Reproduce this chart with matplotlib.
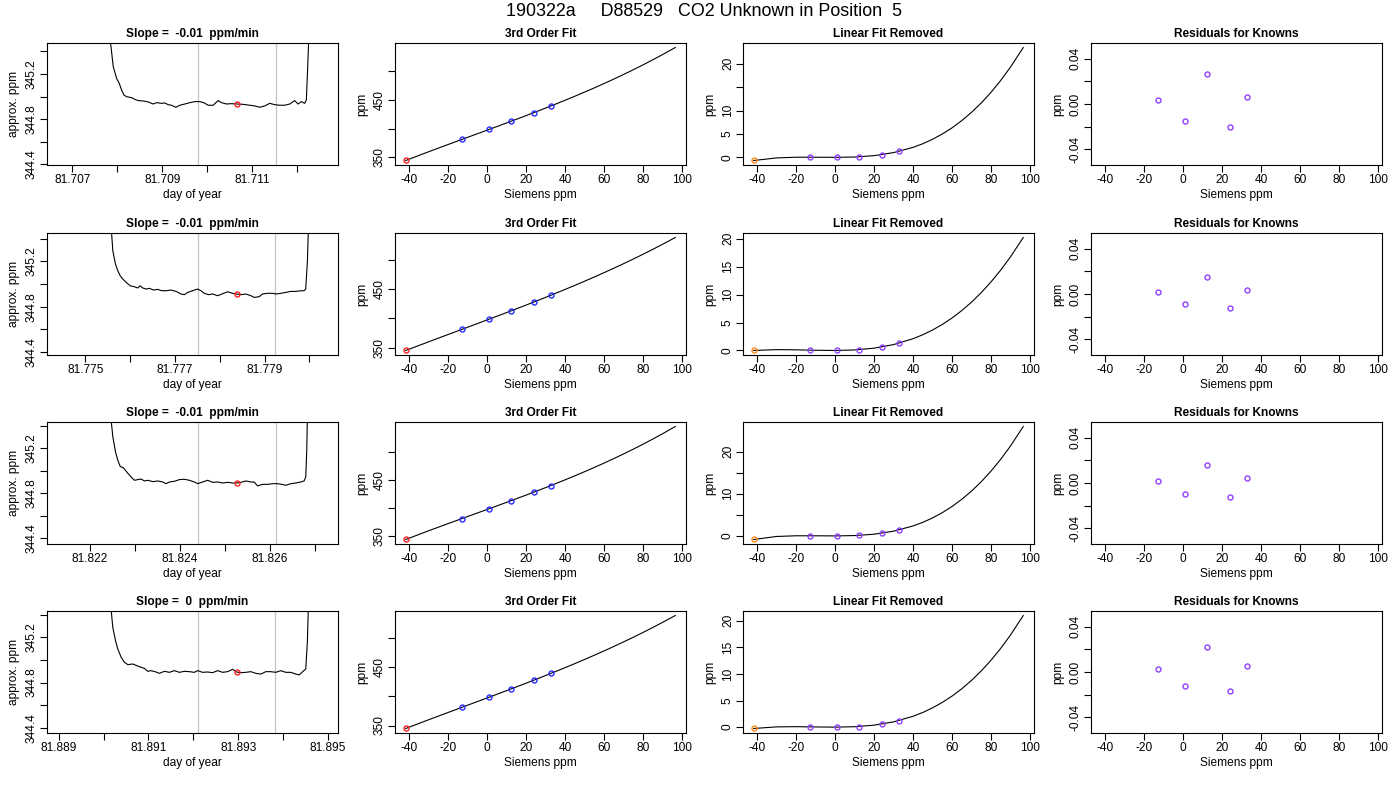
import matplotlib
matplotlib.use("Agg")
import matplotlib.pyplot as plt

plt.rcParams['font.family'] = ['Liberation Sans', 'DejaVu Sans']
plt.rcParams['axes.unicode_minus'] = False

SUPTITLE = "190322a     D88529   CO2 Unknown in Position  5"

# ---------------- time series (column 1) ----------------
ts1_day = [81.707844, 81.707911, 81.707985, 81.708044, 81.708096, 81.708148, 81.708207, 81.708318, 81.708393, 81.708467,
           81.708578, 81.708689, 81.708800, 81.708874, 81.708985, 81.709059, 81.709133, 81.709207, 81.709304, 81.709393,
           81.709504, 81.709615, 81.709726, 81.709837, 81.709926, 81.710022, 81.710133, 81.710244, 81.710319, 81.710430,
           81.710541, 81.710667, 81.710800, 81.710948, 81.711059, 81.711170, 81.711281, 81.711393, 81.711504, 81.711615,
           81.711726, 81.711837, 81.711948, 81.712022, 81.712096, 81.712170, 81.712207, 81.712237, 81.712259]
ts1_ppm = [345.50, 345.265, 345.162, 345.118, 345.059, 345.015, 345.000, 344.991, 344.976, 344.965,
           344.962, 344.953, 344.935, 344.947, 344.941, 344.944, 344.929, 344.924, 344.906, 344.924,
           344.935, 344.947, 344.956, 344.956, 344.947, 344.924, 344.924, 344.965, 344.947, 344.935,
           344.938, 344.935, 344.932, 344.924, 344.918, 344.906, 344.918, 344.941, 344.929, 344.924,
           344.924, 344.935, 344.965, 344.935, 344.956, 344.941, 344.971, 345.265, 345.50]

ts2_day = [81.775579, 81.775616, 81.775675, 81.775727, 81.775779, 81.775838, 81.775913, 81.776002, 81.776098, 81.776172,
           81.776224, 81.776284, 81.776358, 81.776432, 81.776521, 81.776618, 81.776707, 81.776803, 81.776914, 81.777026,
           81.777137, 81.777212, 81.777285, 81.777397, 81.777508, 81.777582, 81.777656, 81.777753, 81.777842, 81.777953,
           81.778050, 81.778176, 81.778287, 81.778376, 81.778473, 81.778584, 81.778695, 81.778769, 81.778881, 81.778955,
           81.779066, 81.779177, 81.779252, 81.779363, 81.779474, 81.779586, 81.779697, 81.779808, 81.779882, 81.779919,
           81.779957, 81.779979]
ts2_ppm = [345.50, 345.294, 345.176, 345.118, 345.074, 345.044, 345.015, 344.985, 344.976, 344.965,
           344.985, 344.965, 344.956, 344.962, 344.947, 344.953, 344.941, 344.941, 344.947, 344.935,
           344.912, 344.906, 344.926, 344.941, 344.956, 344.941, 344.918, 344.906, 344.912, 344.897,
           344.912, 344.932, 344.918, 344.912, 344.906, 344.912, 344.897, 344.882, 344.888, 344.912,
           344.918, 344.918, 344.912, 344.918, 344.926, 344.935, 344.935, 344.941, 344.941, 344.956,
           345.206, 345.50]

ts3_day = [81.822464, 81.822516, 81.822575, 81.822626, 81.822678, 81.822751, 81.822825, 81.822921, 81.822994, 81.823068,
           81.823142, 81.823215, 81.823289, 81.823400, 81.823510, 81.823621, 81.823694, 81.823768, 81.823878, 81.823989,
           81.824099, 81.824210, 81.824320, 81.824394, 81.824504, 81.824615, 81.824725, 81.824836, 81.824946, 81.825057,
           81.825167, 81.825256, 81.825352, 81.825462, 81.825573, 81.825646, 81.825720, 81.825830, 81.825941, 81.826051,
           81.826162, 81.826258, 81.826346, 81.826456, 81.826567, 81.826677, 81.826751, 81.826788, 81.826810, 81.826825]
ts3_ppm = [345.50, 345.297, 345.165, 345.091, 345.038, 345.024, 344.988, 344.944, 344.915, 344.921,
           344.926, 344.909, 344.915, 344.903, 344.909, 344.900, 344.885, 344.900, 344.906, 344.921,
           344.924, 344.915, 344.900, 344.885, 344.900, 344.915, 344.897, 344.900, 344.891, 344.897,
           344.891, 344.891, 344.897, 344.909, 344.900, 344.900, 344.865, 344.879, 344.879, 344.885,
           344.885, 344.879, 344.871, 344.885, 344.891, 344.900, 344.909, 344.944, 345.179, 345.50]

ts4_day = [81.890156, 81.890207, 81.890267, 81.890318, 81.890393, 81.890467, 81.890541, 81.890652, 81.890726, 81.890800,
           81.890911, 81.890985, 81.891059, 81.891170, 81.891244, 81.891355, 81.891467, 81.891578, 81.891689, 81.891800,
           81.891911, 81.892022, 81.892096, 81.892207, 81.892318, 81.892430, 81.892541, 81.892652, 81.892763, 81.892874,
           81.892963, 81.893059, 81.893170, 81.893281, 81.893393, 81.893504, 81.893615, 81.893726, 81.893837, 81.893948,
           81.894059, 81.894170, 81.894281, 81.894355, 81.894444, 81.894504, 81.894541, 81.894563]
ts4_ppm = [345.50, 345.288, 345.171, 345.097, 345.024, 344.979, 344.959, 344.965, 344.953, 344.941,
           344.926, 344.900, 344.906, 344.894, 344.882, 344.900, 344.891, 344.906, 344.891, 344.900,
           344.897, 344.891, 344.906, 344.891, 344.894, 344.888, 344.906, 344.891, 344.897, 344.918,
           344.894, 344.888, 344.891, 344.897, 344.882, 344.876, 344.897, 344.897, 344.891, 344.906,
           344.891, 344.891, 344.876, 344.868, 344.900, 344.921, 345.171, 345.50]

slopes = ["-0.01", "-0.01", "-0.01", "0"]
unk_day = [81.710667, 81.778376, 81.825256, 81.892963]
unk_ppm = [344.935, 344.912, 344.891, 344.894]
win_start = [81.709800, 81.777508, 81.824401, 81.892104]
win_end = [81.711542, 81.779237, 81.826118, 81.893829]
day_ticks = [[81.707, 81.708, 81.709, 81.710, 81.711, 81.712],
             [81.775, 81.776, 81.777, 81.778, 81.779, 81.780],
             [81.822, 81.823, 81.824, 81.825, 81.826, 81.827],
             [81.889, 81.890, 81.891, 81.892, 81.893, 81.894, 81.895]]
day_labels = [["81.707", "", "81.709", "", "81.711", ""],
              ["81.775", "", "81.777", "", "81.779", ""],
              ["81.822", "", "81.824", "", "81.826", ""],
              ["81.889", "", "81.891", "", "81.893", "", "81.895"]]
day_xlim = [(81.706437, 81.712911), (81.774147, 81.780639), (81.821057, 81.827502), (81.888741, 81.895222)]
ppm_ticks = [344.4, 344.6, 344.8, 345.0, 345.2, 345.4]
ppm_labels = ["344.4", "", "344.8", "", "345.2", ""]

# ---------------- calibration (columns 2-4) ----------------
known_siemens = [-12.7, 1.0, 12.4, 23.9, 32.9]
known_ppm = [381.4, 398.6, 413.0, 427.8, 439.8]
unk_siemens = -41.6

curve_x = [-41.6, -30, -20, -10, 0, 10, 20, 30, 40, 45, 50, 55, 60, 65, 70, 75, 80, 85, 90, 96.5]
fit1 = [344.46, 359.55, 372.25, 384.79, 397.30, 409.91, 422.74, 435.93, 449.59, 456.64,
        463.86, 471.26, 478.85, 486.67, 494.71, 502.99, 511.54, 520.37, 529.49, 541.80]
fit2 = [345.13, 359.83, 372.34, 384.80, 397.30, 409.93, 422.79, 435.97, 449.56, 456.54,
        463.66, 470.92, 478.35, 485.95, 493.73, 501.71, 509.89, 518.29, 526.93, 538.51]
fit3 = [344.28, 359.54, 372.25, 384.79, 397.30, 409.92, 422.78, 436.04, 449.82, 456.95,
        464.27, 471.79, 479.53, 487.51, 495.74, 504.24, 513.03, 522.13, 531.56, 544.31]
fit4 = [344.88, 359.73, 372.31, 384.80, 397.30, 409.92, 422.75, 435.91, 449.50, 456.49,
        463.63, 470.92, 478.38, 486.03, 493.88, 501.94, 510.22, 518.74, 527.51, 539.31]

nonlin1 = [-0.67, -0.13, 0.03, 0.03, 0.00, 0.07, 0.36, 1.01, 2.13, 2.91,
           3.86, 4.99, 6.31, 7.86, 9.63, 11.64, 13.92, 16.48, 19.33, 23.49]
nonlin2 = [0.00, 0.15, 0.12, 0.04, 0.00, 0.09, 0.41, 1.05, 2.10, 2.81,
           3.66, 4.65, 5.81, 7.14, 8.65, 10.36, 12.27, 14.40, 16.77, 20.20]
nonlin3 = [-0.85, -0.14, 0.03, 0.03, 0.00, 0.08, 0.40, 1.12, 2.36, 3.22,
           4.27, 5.52, 6.99, 8.70, 10.66, 12.89, 15.41, 18.24, 21.40, 26.00]
nonlin4 = [-0.25, 0.05, 0.09, 0.04, 0.00, 0.08, 0.37, 0.99, 2.04, 2.76,
           3.63, 4.65, 5.84, 7.22, 8.80, 10.59, 12.60, 14.85, 17.35, 21.00]

known_nonlin1 = [0.07, 0.00, 0.07, 0.57, 1.28]
known_nonlin2 = [0.12, 0.00, 0.12, 0.60, 1.31]
known_nonlin3 = [0.04, 0.00, 0.13, 0.63, 1.42]
known_nonlin4 = [0.06, 0.00, 0.06, 0.50, 1.25]
nonlin_labels = [["0", "5", "10", "", "20"], ["0", "5", "10", "15", "20"],
                 ["0", "", "10", "", "20"], ["0", "5", "10", "15", "20"]]

resid1 = [0.0032, -0.0152, 0.0261, -0.0202, 0.0064]
resid2 = [0.0021, -0.0091, 0.0152, -0.0120, 0.0038]
resid3 = [0.0017, -0.0093, 0.0160, -0.0126, 0.0042]
resid4 = [0.0026, -0.0126, 0.0218, -0.0165, 0.0056]

siemens_ticks = [-40, -20, 0, 20, 40, 60, 80, 100]

ts_day = [ts1_day, ts2_day, ts3_day, ts4_day]
ts_ppm = [ts1_ppm, ts2_ppm, ts3_ppm, ts4_ppm]
fits = [fit1, fit2, fit3, fit4]
nonlins = [nonlin1, nonlin2, nonlin3, nonlin4]
known_nonlins = [known_nonlin1, known_nonlin2, known_nonlin3, known_nonlin4]
resids = [resid1, resid2, resid3, resid4]

# ---------------- layout ----------------
FW, FH = 1400, 800
lefts = [47, 395, 743, 1091]
tops = [43, 233, 422, 611]
AW, AH = 291, 122
FS = 8.6
PURPLE = '#9040FF'
ORANGE = '#FF8C1A'
BLUE = '#2A2AFF'
RED = '#FF2020'


def style(ax):
    ax.tick_params(direction='out', length=5, width=0.8, labelsize=FS, pad=1.5,
                   top=False, right=False, colors='black')
    for s in ax.spines.values():
        s.set_linewidth(0.8)
        s.set_color('black')


def set_yticks(ax, ticks, labels):
    ax.set_yticks(ticks)
    ax.set_yticklabels(labels, rotation=90, va='center')


def labels(ax, xl, yl, title):
    ax.set_xlabel(xl, fontsize=FS, va='center')
    ax.xaxis.set_label_coords(0.5, -30.0 / AH)
    ax.set_ylabel(yl, fontsize=FS, va='center')
    ax.yaxis.set_label_coords(-33.0 / AW, 0.5)
    ax.set_title(title, fontsize=FS, fontweight='bold', pad=4)


fig = plt.figure(figsize=(FW / 100, FH / 100), dpi=100)
fig.text(704 / FW, 1 - 11 / FH, SUPTITLE, ha='center', va='center', fontsize=12.9)

mk = dict(marker='o', ms=3.6, mfc='none', mew=1.0, ls='none')

for r in range(4):
    axes = [fig.add_axes([lefts[c] / FW, 1 - (tops[r] + AH) / FH, AW / FW, AH / FH]) for c in range(4)]

    # column 1: time series
    ax = axes[0]
    style(ax)
    ax.axvline(win_start[r], color='#C4C4C4', lw=0.9)
    ax.axvline(win_end[r], color='#C4C4C4', lw=0.9)
    ax.plot(ts_day[r], ts_ppm[r], color='black', lw=0.8)
    ax.plot([unk_day[r]], [unk_ppm[r]], color=RED, **mk)
    ax.set_xlim(*day_xlim[r])
    ax.set_ylim(unk_ppm[r] - 0.54, unk_ppm[r] + 0.54)
    ax.set_xticks(day_ticks[r])
    ax.set_xticklabels(day_labels[r])
    set_yticks(ax, ppm_ticks, ppm_labels)
    labels(ax, "day of year", "approx. ppm", "Slope =  %s  ppm/min" % slopes[r])

    # column 2: 3rd order fit
    ax = axes[1]
    style(ax)
    ax.plot(curve_x, fits[r], color='black', lw=0.8)
    ax.plot(known_siemens, known_ppm, color=BLUE, **mk)
    ax.plot([unk_siemens], [fits[r][0]], color=RED, **mk)
    ax.set_xlim(-47.1, 102.0)
    ax.set_ymargin(0.04)
    ax.autoscale(axis='y')
    ax.set_xticks(siemens_ticks)
    set_yticks(ax, [350, 400, 450, 500], ["350", "", "450", ""])
    labels(ax, "Siemens ppm", "ppm", "3rd Order Fit")

    # column 3: linear fit removed
    ax = axes[2]
    style(ax)
    ax.plot(curve_x, nonlins[r], color='black', lw=0.8)
    ax.plot(known_siemens, known_nonlins[r], color=PURPLE, **mk)
    ax.plot([unk_siemens], [nonlins[r][0]], color=ORANGE, **mk)
    ax.set_xlim(-47.1, 102.0)
    ax.set_ymargin(0.04)
    ax.autoscale(axis='y')
    ax.set_xticks(siemens_ticks)
    set_yticks(ax, [0, 5, 10, 15, 20], nonlin_labels[r])
    labels(ax, "Siemens ppm", "ppm", "Linear Fit Removed")

    # column 4: residuals
    ax = axes[3]
    style(ax)
    ax.plot(known_siemens, resids[r], color=PURPLE, **mk)
    ax.set_xlim(-47.1, 102.0)
    ax.set_ylim(-0.0537, 0.0537)
    ax.set_xticks(siemens_ticks)
    set_yticks(ax, [-0.04, -0.02, 0.0, 0.02, 0.04], ["-0.04", "", "0.00", "", "0.04"])
    labels(ax, "Siemens ppm", "ppm", "Residuals for Knowns")

fig.savefig("out.png", dpi=100)
